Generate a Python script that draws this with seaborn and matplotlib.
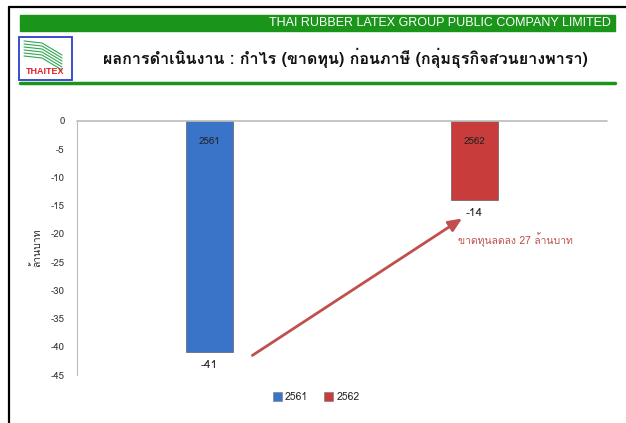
import pandas as pd
import matplotlib
matplotlib.use("Agg")
import matplotlib.pyplot as plt
import matplotlib.patches as mpatches
import seaborn as sns
from matplotlib import font_manager
from matplotlib.ft2font import FT2Font

# Data
years = ["2561", "2562"]
profit = [-41, -14]
bar_colors = {"2561": "#3a74c8", "2562": "#c83c3c"}
y_ticks = [0, -5, -10, -15, -20, -25, -30, -35, -40, -45]

header_text = "THAI RUBBER LATEX GROUP PUBLIC COMPANY LIMITED"
title_text = "ผลการดำเนินงาน : กำไร (ขาดทุน) ก่อนภาษี (กลุ่มธุรกิจสวนยางพารา)"
ylabel_text = "ล้านบาท"
note_text = "ขาดทุนลดลง 27 ล้านบาท"

df = pd.DataFrame({"year": years, "profit": profit})

sns.set_style("white")

# find a font that can draw Thai
thai = []
for f in font_manager.fontManager.ttflist:
    try:
        if 0x0E01 in FT2Font(f.fname).get_charmap():
            thai.append(f.name)
    except Exception:
        pass
families = list(dict.fromkeys(thai)) + ["DejaVu Sans"]
plt.rcParams["font.family"] = families

fig = plt.figure(figsize=(6.26, 4.23), dpi=100)
W, H = 626, 423

def fx(px):
    return px / W

def fy(py):
    return 1 - py / H

# slide frame
fig.add_artist(plt.Line2D([fx(9), fx(9)], [0, fy(7)], color="black", lw=1.6))
fig.add_artist(plt.Line2D([fx(9), 1], [fy(7), fy(7)], color="black", lw=1.6))

# green header bar
fig.add_artist(mpatches.Rectangle((fx(20), fy(31)), fx(595), 16 / H,
                                  color="#1a951a", transform=fig.transFigure))
fig.text(fx(611), fy(23), header_text, color="white", fontsize=9,
         ha="right", va="center", family=["Liberation Sans", "DejaVu Sans"])
fig.add_artist(plt.Line2D([fx(20), fx(615)], [fy(83), fy(83)], color="#1a951a", lw=2.5))

# logo
fig.add_artist(mpatches.Rectangle((fx(19), fy(80)), fx(53), 43 / H, fill=False,
                                  edgecolor="#2b3fcc", lw=1.3, transform=fig.transFigure))
for k in range(6):
    y0 = 41 + k * 3
    fig.add_artist(plt.Line2D([fx(24), fx(42), fx(62)], [fy(y0), fy(y0 + 2), fy(y0 + 14)],
                              color="#2fa84f", lw=0.8))
fig.text(fx(45), fy(72), "THAITEX", color="#e0202a", fontsize=6.5, fontweight="bold",
         ha="center", va="center", family=["Liberation Sans", "DejaVu Sans"])

fig.text(fx(345), fy(58), title_text, fontsize=11.6, fontweight="bold",
         ha="center", va="center", color="#111111")

# chart
ax = fig.add_axes([fx(77), fy(375), fx(530), 254 / H])
sns.barplot(data=df, x="year", y="profit", hue="year", palette=bar_colors, saturation=1,
            width=0.174, edgecolor="#4a4a4a", linewidth=0.4, legend=False, ax=ax)
ax.set_ylim(-45, 0)
ax.set_yticks(y_ticks)
ax.set_yticklabels([str(t) for t in y_ticks], fontsize=7, color="#333333")
ax.tick_params(axis="y", length=0, pad=9)
ax.set_xticks([])
ax.set_xlabel("")
ax.set_ylabel(ylabel_text, fontsize=7.5, labelpad=6)
for s in ["top", "right", "bottom"]:
    ax.spines[s].set_visible(False)
ax.spines["left"].set_color("#bbbbbb")
ax.axhline(0, color="#bbbbbb", lw=1.2, clip_on=False)

for i, (yr, v) in enumerate(zip(years, profit)):
    ax.annotate(yr, (i, 0), xytext=(0, -15), textcoords="offset points",
                ha="center", va="center", fontsize=7, color="#222222")
    ax.annotate(str(v), (i, v), xytext=(0, -9), textcoords="offset points",
                ha="center", va="center", fontsize=8.5, color="#222222")

ax.annotate("", xy=(0.962, -17.0), xytext=(0.153, -41.8),
            arrowprops=dict(arrowstyle="-|>,head_length=0.8,head_width=0.35",
                            color="#c0504d", lw=2))
ax.text(0.938, -21.1, note_text, fontsize=7.5, color="#c0504d", ha="left", va="center")

legend_handles = [mpatches.Patch(facecolor=bar_colors[y], edgecolor="#777777", lw=0.4, label=y)
                  for y in years]
fig.legend(handles=legend_handles, loc="center", bbox_to_anchor=(fx(316), fy(397)),
           ncol=2, frameon=False, fontsize=7.5, handlelength=0.9, handleheight=0.9,
           handletextpad=0.3, columnspacing=1.5)

fig.savefig("out.png", dpi=100)
